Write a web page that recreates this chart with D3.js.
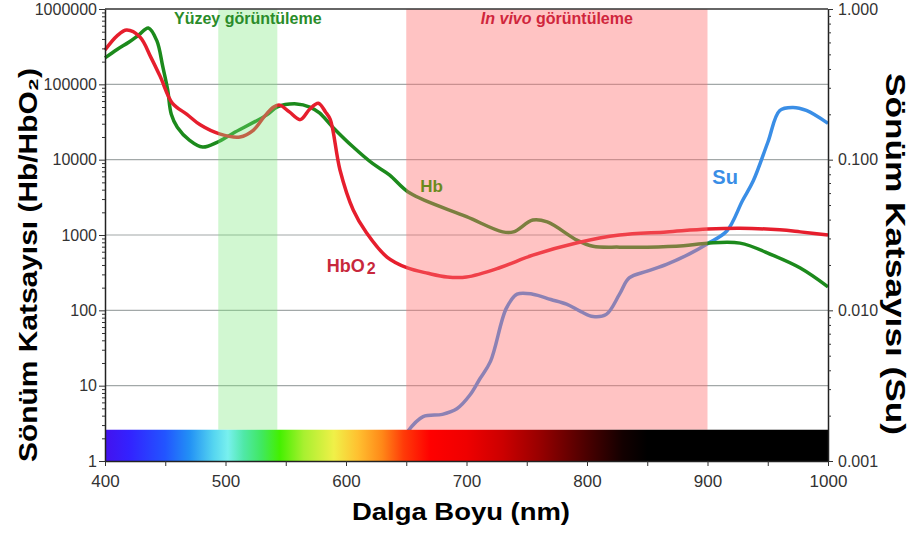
<!DOCTYPE html>
<html>
<head>
<meta charset="utf-8">
<script src="https://cdn.jsdelivr.net/npm/d3@7"></script>
<style>
	body { margin: 0; background: #fff; }
	svg { display: block; font-family: "Liberation Sans", Arial, sans-serif; }
</style>
</head>
<body>
<div id="chart"></div>
<script>

// Hb (deoxy) extinction, left axis
let hbNm  = [400, 410, 420, 428, 436, 443, 448, 452, 455, 460, 470, 481, 493, 506, 534, 543, 559, 570, 578, 589, 606, 622, 636, 653, 700, 730, 739, 755, 767, 792, 805, 827, 850, 880, 900, 927, 954, 977, 1000];
let hbVal = [224000, 290000, 365000, 452000, 560000, 380000, 170000, 85000, 40000, 27000, 18200, 14700, 17000, 22300, 39000, 50000, 55000, 50000, 41700, 27000, 14700, 8900, 6300, 3600, 1750, 1100, 1100, 1580, 1490, 850, 710, 690, 690, 720, 780, 780, 540, 364, 205];

// HbO2 extinction, left axis
let hbo2Nm  = [400, 410, 418, 429, 438, 446, 456, 468, 479, 495, 512, 523, 532, 540, 545, 553, 562, 570, 577, 583, 587, 595, 606, 617, 634, 651, 668, 684, 700, 728, 755, 792, 827, 866, 900, 927, 960, 977, 1000];
let hbo2Val = [285000, 440000, 525000, 425000, 230000, 125000, 56000, 40000, 29000, 22000, 20000, 24500, 37000, 50000, 53000, 43000, 34000, 47000, 56000, 43000, 34000, 7300, 2150, 1070, 510, 365, 310, 277, 277, 370, 540, 790, 1000, 1100, 1200, 1230, 1170, 1100, 1000];

// water, right axis
let suNm  = [648, 651, 664, 680, 692, 703, 711, 720, 733, 742, 755, 770, 783, 795, 805, 816, 827, 835, 850, 866, 885, 900, 916, 929, 938, 950, 960, 971, 982, 1000];
let suVal = [0.0014, 0.00156, 0.00197, 0.00204, 0.00222, 0.00275, 0.0035, 0.0046, 0.0103, 0.0128, 0.0128, 0.0118, 0.011, 0.0098, 0.0091, 0.0094, 0.0128, 0.0164, 0.0182, 0.0202, 0.0237, 0.0277, 0.0336, 0.0534, 0.0724, 0.13, 0.212, 0.222, 0.212, 0.174];

// imaging windows
let surfaceBand = [494, 543];
let inVivoBand = [650, 900];

// spectrum strip
let spectNm    = [400, 420, 450, 470, 490, 502, 515, 530, 545, 565, 590, 610, 630, 648, 670, 700, 730, 760, 800, 830, 850, 1000];
let spectColor = ["#4412ee", "#3322ff", "#2255ff", "#2290f5", "#55d5f0", "#78f0ee", "#50e8a8", "#40e860", "#44f000", "#a8f030", "#f0f048", "#ffc030", "#ff8818", "#ff3a08", "#ff0000", "#ef0000", "#cc0000", "#990000", "#4a0000", "#120000", "#000000", "#000000"];

let xTicks = [400, 450, 500, 550, 600, 650, 700, 750, 800, 850, 900, 950, 1000];
let leftTicks = [1, 10, 100, 1000, 10000, 100000, 1000000];
let rightTicks = [0.001, 0.01, 0.1, 1];

function drawChart() {
	let width = 913, height = 534;
	let margin = {top: 9, right: 85, bottom: 73, left: 105};
	let barTop = 2.6; // top of the spectrum strip, in left-axis units

	let svg = d3.select("#chart").append("svg")
		.attr("width", width)
		.attr("height", height);

	let x = d3.scaleLinear().domain([400, 1000]).range([margin.left, width - margin.right]);
	let yL = d3.scaleLog().domain([1, 1e6]).range([height - margin.bottom, margin.top]);
	let yR = d3.scaleLog().domain([0.001, 1]).range([height - margin.bottom, margin.top]);

	// grid
	svg.append("g").selectAll("line")
		.data(leftTicks.slice(1, -1))
		.join("line")
		.attr("x1", x(400)).attr("x2", x(1000))
		.attr("y1", d => yL(d)).attr("y2", d => yL(d))
		.attr("stroke", "#a2a8a8")
		.attr("stroke-width", 1.2);

	// curves
	let zip = (a, b) => a.map((d, i) => [d, b[i]]);
	let line = ys => d3.line().x(d => x(d[0])).y(d => ys(d[1])).curve(d3.curveCatmullRom.alpha(0.5));

	svg.append("path").datum(zip(suNm, suVal))
		.attr("d", line(yR))
		.attr("fill", "none").attr("stroke", "#3a8ee6").attr("stroke-width", 3.5);
	svg.append("path").datum(zip(hbNm, hbVal))
		.attr("d", line(yL))
		.attr("fill", "none").attr("stroke", "#1c8a1c").attr("stroke-width", 3.5);
	svg.append("path").datum(zip(hbo2Nm, hbo2Val))
		.attr("d", line(yL))
		.attr("fill", "none").attr("stroke", "#e61e2d").attr("stroke-width", 3.5);

	// window overlays (sit on top of the curves, tinting them)
	svg.append("rect")
		.attr("x", x(surfaceBand[0])).attr("width", x(surfaceBand[1]) - x(surfaceBand[0]))
		.attr("y", margin.top).attr("height", yL(barTop) - margin.top)
		.attr("fill", "#7be87b").attr("opacity", 0.35);
	svg.append("rect")
		.attr("x", x(inVivoBand[0])).attr("width", x(inVivoBand[1]) - x(inVivoBand[0]))
		.attr("y", margin.top).attr("height", yL(barTop) - margin.top)
		.attr("fill", "#ff7070").attr("opacity", 0.42);

	// spectrum strip
	let grad = svg.append("defs").append("linearGradient")
		.attr("id", "spect")
		.attr("gradientUnits", "userSpaceOnUse")
		.attr("x1", x(400)).attr("x2", x(1000))
		.attr("y1", 0).attr("y2", 0);
	grad.selectAll("stop")
		.data(spectNm)
		.join("stop")
		.attr("offset", d => (x(d) - x(400)) / (x(1000) - x(400)))
		.attr("stop-color", (d, i) => spectColor[i]);
	svg.append("rect")
		.attr("x", x(400)).attr("width", x(1000) - x(400))
		.attr("y", yL(barTop)).attr("height", yL(1) - yL(barTop))
		.attr("fill", "url(#spect)");

	// top border
	svg.append("line")
		.attr("x1", x(400)).attr("x2", x(1000))
		.attr("y1", margin.top).attr("y2", margin.top)
		.attr("stroke", "#333").attr("stroke-width", 1.5);

	let minorL = yL.ticks().filter(d => leftTicks.indexOf(d) == -1);
	let minorR = yR.ticks().filter(d => rightTicks.indexOf(d) == -1);

	// axes
	let bottom = svg.append("g")
		.attr("transform", `translate(0, ${height - margin.bottom})`)
		.call(d3.axisBottom(x).tickValues(xTicks).tickSize(5).tickSizeOuter(0).tickPadding(9)
			.tickFormat(d => d % 100 == 0 ? d : ""));

	let left = svg.append("g")
		.attr("transform", `translate(${margin.left}, 0)`)
		.call(d3.axisLeft(yL).tickValues(leftTicks).tickSize(6).tickSizeOuter(0).tickPadding(2)
			.tickFormat(d3.format("d")));
	svg.append("g")
		.attr("transform", `translate(${margin.left}, 0)`)
		.call(d3.axisLeft(yL).tickValues(minorL).tickSize(3).tickSizeOuter(0).tickFormat(""))
		.select(".domain").remove();

	let right = svg.append("g")
		.attr("transform", `translate(${width - margin.right}, 0)`)
		.call(d3.axisRight(yR).tickValues(rightTicks).tickSize(5).tickSizeOuter(0).tickPadding(5)
			.tickFormat(d3.format(".3f")));
	svg.append("g")
		.attr("transform", `translate(${width - margin.right}, 0)`)
		.call(d3.axisRight(yR).tickValues(minorR).tickSize(3).tickSizeOuter(0).tickFormat(""))
		.select(".domain").remove();

	svg.selectAll(".domain").attr("stroke", "#222").attr("stroke-width", 1.5);
	svg.selectAll(".tick line").attr("stroke", "#333");
	svg.selectAll(".tick text")
		.attr("fill", "#333")
		.style("font-family", '"Liberation Sans", Arial, sans-serif');
	bottom.selectAll("text").style("font-size", "17px");
	left.selectAll("text").style("font-size", "16px");
	right.selectAll("text").style("font-size", "16px");

	// window captions
	svg.append("text")
		.attr("x", x((surfaceBand[0] + surfaceBand[1]) / 2)).attr("y", 24)
		.attr("text-anchor", "middle")
		.attr("fill", "#2a8c2a")
		.style("font-size", "16px").style("font-weight", "bold")
		.text("Yüzey görüntüleme");

	let vivo = svg.append("text")
		.attr("x", x((inVivoBand[0] + inVivoBand[1]) / 2)).attr("y", 24)
		.attr("text-anchor", "middle")
		.attr("fill", "#d0263c")
		.style("font-size", "16px").style("font-weight", "bold");
	vivo.append("tspan").style("font-style", "italic").text("In vivo");
	vivo.append("tspan").text(" görüntüleme");

	// curve labels
	svg.append("text")
		.attr("x", x(671)).attr("y", yL(3700))
		.attr("text-anchor", "middle")
		.attr("fill", "#6a8a1c")
		.style("font-size", "17px").style("font-weight", "bold")
		.text("Hb");

	let hbo2 = svg.append("text")
		.attr("x", x(584)).attr("y", yL(321))
		.attr("fill", "#c8283c")
		.style("font-size", "18px").style("font-weight", "bold");
	hbo2.append("tspan").text("HbO");
	hbo2.append("tspan").attr("dx", 2).attr("dy", 2).style("font-size", "16px").text("2");

	svg.append("text")
		.attr("x", x(904)).attr("y", yR(0.069))
		.attr("fill", "#3a8ee6")
		.style("font-size", "20px").style("font-weight", "bold")
		.text("Su");

	// axis titles
	svg.append("text")
		.attr("transform", `translate(28, 265) rotate(-90)`)
		.attr("text-anchor", "middle").attr("dy", "0.35em")
		.attr("textLength", 394).attr("lengthAdjust", "spacingAndGlyphs")
		.attr("fill", "#000")
		.style("font-size", "25px").style("font-weight", "bold")
		.text("Sönüm Katsayısı (Hb/HbO₂)");

	svg.append("text")
		.attr("transform", `translate(896, 254) rotate(90)`)
		.attr("text-anchor", "middle").attr("dy", "0.35em")
		.attr("textLength", 362).attr("lengthAdjust", "spacingAndGlyphs")
		.attr("fill", "#000")
		.style("font-size", "28px").style("font-weight", "bold")
		.text("Sönüm Katsayısı (Su)");

	svg.append("text")
		.attr("x", 461).attr("y", 520)
		.attr("text-anchor", "middle")
		.attr("textLength", 218).attr("lengthAdjust", "spacingAndGlyphs")
		.attr("fill", "#000")
		.style("font-size", "24px").style("font-weight", "bold")
		.text("Dalga Boyu (nm)");
}

drawChart();
</script>
</body>
</html>
